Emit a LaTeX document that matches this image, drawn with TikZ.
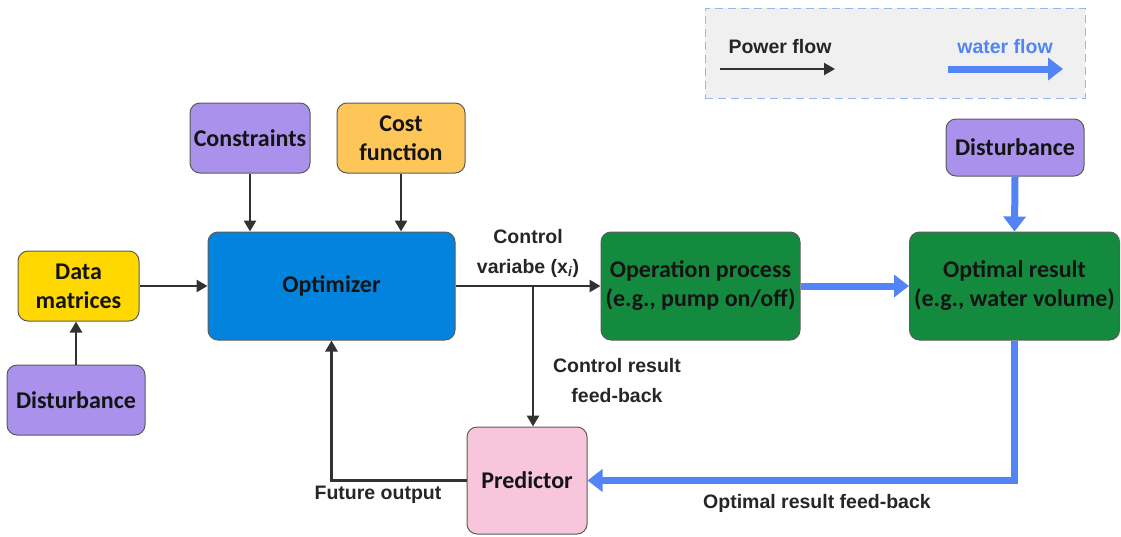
\documentclass[tikz,border=0pt]{standalone}
\usepackage{fontspec}
\setmainfont{Liberation Sans}
\newfontfamily\boxfont{Carlito}
\usetikzlibrary{arrows.meta}
\definecolor{cpurple}{RGB}{170,145,236}
\definecolor{corange}{RGB}{254,198,88}
\definecolor{cblue}{RGB}{2,132,222}
\definecolor{cgreen}{RGB}{20,138,62}
\definecolor{cyellow}{RGB}{255,216,0}
\definecolor{cpink}{RGB}{247,198,220}
\definecolor{flowblue}{RGB}{82,132,246}
\definecolor{legfill}{RGB}{240,240,240}
\definecolor{legborder}{RGB}{150,182,240}
\definecolor{darkline}{RGB}{50,50,50}
\tikzset{
  box/.style={draw=darkline!80, line width=1pt, rounded corners=10pt, align=center,
    font=\boxfont\bfseries\fontsize{24}{29}\selectfont, text=black!92, inner sep=0pt},
  pf/.style={draw=darkline, line width=2.8pt, -{Triangle[length=11pt,width=12pt]}},
  wf/.style={draw=flowblue, line width=7pt, -{Triangle[length=15pt,width=22pt]}},
  lbl/.style={font=\bfseries\fontsize{19.5}{30}\selectfont, text=black!85, align=center, inner sep=0pt},
}
\begin{document}
\begin{tikzpicture}[x=1pt,y=-1pt]
\useasboundingbox (0,0) rectangle (1121,536);
% legend
\node[draw=legborder, dashed, dash pattern=on 8pt off 5pt, line width=1pt, fill=legfill,
  minimum width=380pt, minimum height=90pt, inner sep=0pt] (legend) at (895,53) {};
\node[lbl] (pflabel) at (780,47) {Power flow};
\coordinate (pfa) at (720,69);
\coordinate (pfb) at (835,69);
\draw[pf, line width=2.2pt] (pfa) -- (pfb);
\node[lbl, text=flowblue] (wflabel) at (1005,47) {water flow};
\coordinate (wfa) at (948,69);
\coordinate (wfb) at (1063,69);
\draw[wf] (wfa) -- (wfb);
% boxes
\node[box, fill=cpurple, minimum width=120pt, minimum height=70pt] (constraints) at (250,138) {Constraints};
\node[box, fill=corange, minimum width=128pt, minimum height=70pt] (cost) at (401,138) {Cost\\function};
\node[box, fill=cblue, minimum width=247pt, minimum height=108pt] (optimizer) at (331.5,286) {Optimizer};
\node[box, fill=cyellow, minimum width=121pt, minimum height=70pt] (data) at (78.5,286) {Data\\matrices};
\node[box, fill=cpurple, minimum width=138pt, minimum height=70pt] (distL) at (76,400) {Disturbance};
\node[box, fill=cgreen, minimum width=199pt, minimum height=108pt] (oper) at (700.5,286) {Operation process\\(e.g., pump on/off)};
\node[box, fill=cgreen, minimum width=210pt, minimum height=108pt] (optres) at (1014.5,286) {Optimal result\\(e.g., water volume)};
\node[box, fill=cpurple, minimum width=138pt, minimum height=57pt] (distR) at (1015,147.5) {Disturbance};
\node[box, fill=cpink, minimum width=120pt, minimum height=107pt] (pred) at (527,480.5) {Predictor};
% power flow connectors
\draw[pf] (constraints.south) -- (constraints.south |- optimizer.north);
\draw[pf] (cost.south) -- (cost.south |- optimizer.north);
\draw[pf] (data.east) -- (data.east -| optimizer.west);
\draw[pf] (distL.north) -- (distL.north |- data.south);
\draw[pf] (optimizer.east) -- (oper.west);
\coordinate (br) at (533,286);
\draw[pf] (br) -- (br |- pred.north);
\draw[pf] (pred.west) -| (optimizer.south);
% water flow connectors
\draw[wf] (oper.east) -- (optres.west);
\draw[wf] (distR.south) -- (optres.north);
\draw[wf] (optres.south) |- (pred.east);
% labels
\node[lbl] (ctl) at (528,253) {Control\\variabe (x\textsubscript{\textit{i}})};
\node[lbl] (crf) at (617,381) {Control result\\feed-back};
\node[lbl] (fo) at (378,495) {Future output};
\node[lbl] (orf) at (817,503) {Optimal result feed-back};
\end{tikzpicture}
\end{document}
